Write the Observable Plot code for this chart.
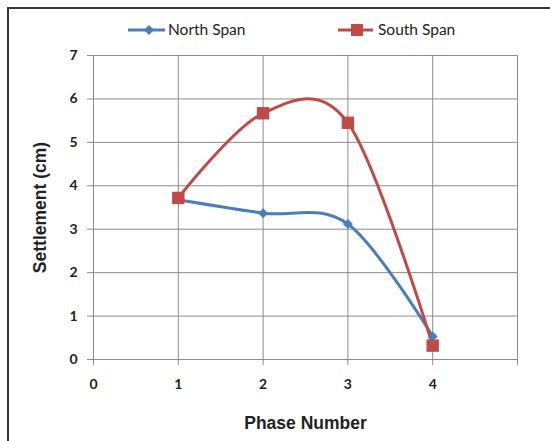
<!DOCTYPE html>
<html><head><meta charset="utf-8">
<script src="https://cdn.jsdelivr.net/npm/d3@7"></script>
<script src="https://cdn.jsdelivr.net/npm/@observablehq/plot@0.6"></script>
<style>
body{margin:0;background:#fff;}
#wrap{position:relative;width:550px;height:441px;overflow:hidden;font-family:Lato,"Open Sans",sans-serif;}
#frame{position:absolute;left:7px;top:7px;width:700px;height:600px;border-left:2px solid #3a3a3a;border-top:2px solid #3a3a3a;}
#chart{position:absolute;left:0;top:0;}
#legend{position:absolute;left:0;top:0;}
</style></head>
<body><div id="wrap"><div id="frame"></div><div id="chart"></div><div id="legend"></div></div>
<script>
const phases = [1, 2, 3, 4];
const northSpan = [3.68, 3.37, 3.12, 0.53];
const southSpan = [3.72, 5.67, 5.45, 0.32];
const seriesNames = ["North Span", "South Span"];
const seriesColors = ["#4A7EBB", "#BE4B48"];
const xTicks = [0, 1, 2, 3, 4, 5];
const yTicks = [0, 1, 2, 3, 4, 5, 6, 7];
const xTitle = "Phase Number";
const yTitle = "Settlement (cm)";

const north = phases.map((p, i) => ({phase: p, value: northSpan[i]}));
const south = phases.map((p, i) => ({phase: p, value: southSpan[i]}));
const grid = "#8c8c8c";
const textColor = "#222";
const titleFont = "'Liberation Sans', Arial, sans-serif";

const chart = Plot.plot({
  width: 550, height: 441,
  marginLeft: 93, marginRight: 33, marginTop: 55, marginBottom: 82,
  style: {fontFamily: "Lato, 'Open Sans', sans-serif", background: "transparent"},
  x: {domain: [0, 5]},
  y: {domain: [0, 7]},
  marks: [
    Plot.gridX(xTicks, {stroke: grid, strokeOpacity: 1, strokeWidth: 1}),
    Plot.gridY(yTicks, {stroke: grid, strokeOpacity: 1, strokeWidth: 1}),
    Plot.axisX(xTicks, {tickSize: 6, tickPadding: 14, stroke: grid, fill: textColor, fontSize: 14, fontWeight: "bold", label: null,
      tickFormat: d => d === 5 ? "" : String(d)}),
    Plot.axisY(yTicks, {tickSize: 6, tickPadding: 10, stroke: grid, fill: textColor, fontSize: 14, fontWeight: "bold", label: null}),
    Plot.text([xTitle], {frameAnchor: "bottom", lineAnchor: "middle", dy: 64, fontSize: 17.5, fontWeight: "bold", fill: textColor, fontFamily: titleFont}),
    Plot.text([yTitle], {frameAnchor: "left", lineAnchor: "middle", textAnchor: "middle", dx: -53, rotate: -90, fontSize: 17.5, fontWeight: "bold", fill: textColor, fontFamily: titleFont}),
    Plot.line(north, {x: "phase", y: "value", stroke: seriesColors[0], strokeWidth: 3, curve: "cardinal"}),
    Plot.line(south, {x: "phase", y: "value", stroke: seriesColors[1], strokeWidth: 3, curve: "cardinal"}),
    Plot.dot(north, {x: "phase", y: "value", symbol: "diamond2", r: 4.5, fill: seriesColors[0], stroke: null}),
    Plot.dot(south, {x: "phase", y: "value", symbol: "square", r: 7, fill: seriesColors[1], stroke: null})
  ]
});
document.getElementById("chart").append(chart);

// Legend
const lg = d3.select("#legend").append("svg").attr("width", 550).attr("height", 50);
const items = [
  {x0: 128, x1: 165, mx: 149, tx: 168, sym: "diamond"},
  {x0: 338, x1: 373, mx: 357, tx: 378, sym: "square"}
];
items.forEach((it, i) => {
  const g = lg.append("g");
  g.append("line").attr("x1", it.x0).attr("x2", it.x1).attr("y1", 30).attr("y2", 30)
    .attr("stroke", seriesColors[i]).attr("stroke-width", 3);
  if (it.sym === "diamond") {
    g.append("path").attr("d", d3.symbol(d3.symbolDiamond2, Math.PI * 4.5 * 4.5)())
      .attr("transform", `translate(${it.mx},30)`).attr("fill", seriesColors[i]);
  } else {
    g.append("rect").attr("x", it.mx - 6).attr("y", 24).attr("width", 12).attr("height", 12).attr("fill", seriesColors[i]);
  }
  g.append("text").attr("x", it.tx).attr("y", 30).attr("dy", "0.35em")
    .attr("font-size", 15.5).attr("fill", textColor).attr("font-family", "Lato, 'Open Sans', sans-serif")
    .text(seriesNames[i]);
});
</script>
</body></html>
